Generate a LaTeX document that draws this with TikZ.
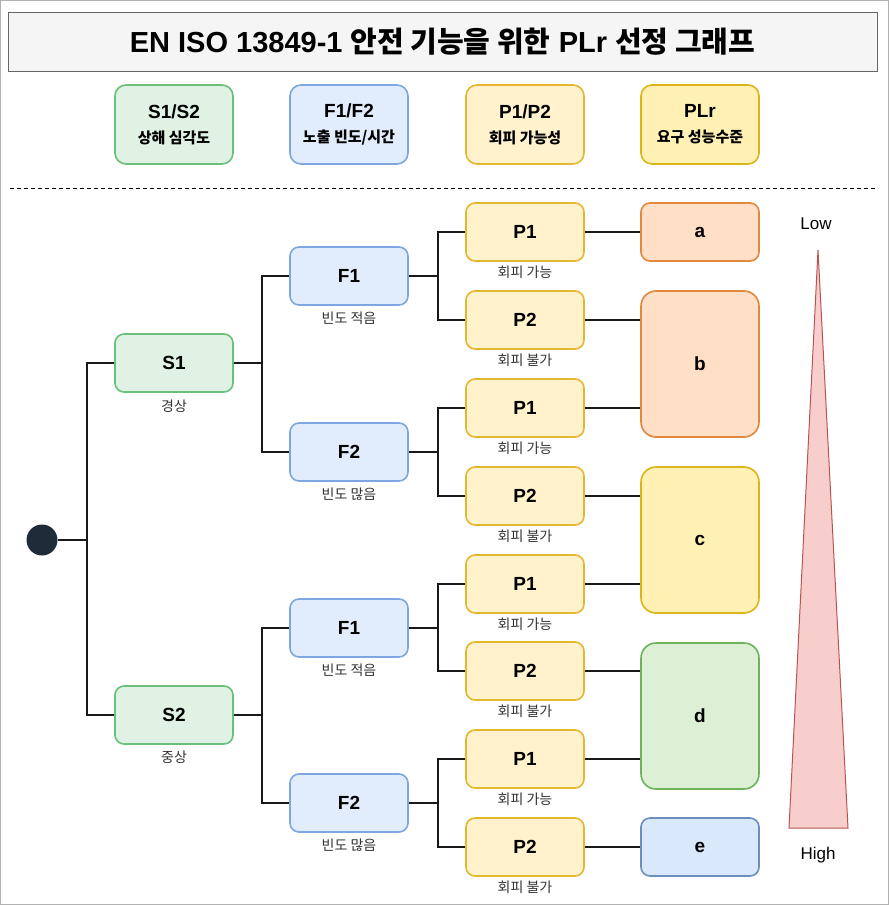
\documentclass[tikz,border=0pt]{standalone}
\usepackage{fontspec}
\setmainfont{Liberation Sans}
\newfontfamily\kr{Noto Sans CJK KR}
\usetikzlibrary{positioning}
\definecolor{sfill}{HTML}{DFF2E3}
\definecolor{sline}{HTML}{6ABF7B}
\definecolor{ffill}{HTML}{E1EDFD}
\definecolor{fline}{HTML}{7EA6E0}
\definecolor{pfill}{HTML}{FFF2CC}
\definecolor{pline}{HTML}{E3B72F}
\definecolor{ofill}{HTML}{FFE0C7}
\definecolor{oline}{HTML}{E0883E}
\definecolor{cfill}{HTML}{FFF0B3}
\definecolor{cline}{HTML}{DDB41A}
\definecolor{dfill}{HTML}{DDF0D5}
\definecolor{dline}{HTML}{6DB35A}
\definecolor{efill}{HTML}{DAE8FC}
\definecolor{eline}{HTML}{6C8EBF}
\definecolor{tfill}{HTML}{F5F5F5}
\definecolor{tline}{HTML}{666666}
\definecolor{wfill}{HTML}{F8CECC}
\definecolor{wline}{HTML}{B85450}
\definecolor{notegray}{HTML}{333333}
\definecolor{dotfill}{HTML}{1E2B38}
\tikzset{
    box/.style={draw, line width=1.6pt, rounded corners=9pt, minimum width=118pt,
        minimum height=58pt, align=center, font=\bfseries\fontsize{19}{22}\selectfont},
    sbox/.style={box, fill=sfill, draw=sline},
    fbox/.style={box, fill=ffill, draw=fline},
    pbox/.style={box, fill=pfill, draw=pline},
    bigbox/.style={box, rounded corners=15pt, minimum height=146pt},
    legend/.style={minimum height=79pt, rounded corners=11pt},
    note/.style={font=\kr\fontsize{14}{16}\selectfont, text=notegray},
    link/.style={line width=1.8pt, black!90}
}
\newcommand{\lgsub}[1]{{\kr\fontsize{15}{17}\selectfont #1}}

\begin{document}
\begin{tikzpicture}[x=1pt, y=-1pt]
\useasboundingbox (0,0) rectangle (889,905);
\draw[gray!60, line width=1pt] (0.5,0.5) rectangle (888.5,904.5);

% title
\node[draw=tline, fill=tfill, line width=1pt, minimum width=869pt, minimum height=59pt,
    font=\bfseries\fontsize{29}{32}\selectfont] (title) at (442.5,41.5)
    {EN ISO 13849-1 {\kr 안전 기능을 위한} PLr {\kr 선정 그래프}};

% legend
\node[sbox, legend] (lgs) at (174,124.5) {S1/S2\\[3pt]\lgsub{상해 심각도}};
\node[fbox, legend] (lgf) at (349,124.5) {F1/F2\\[3pt]\lgsub{노출 빈도/시간}};
\node[pbox, legend] (lgp) at (525,124.5) {P1/P2\\[3pt]\lgsub{회피 가능성}};
\node[pbox, legend, fill=cfill, draw=cline] (lgr) at (700,124.5) {PLr\\[3pt]\lgsub{요구 성능수준}};

\draw[line width=1pt, dash pattern=on 4pt off 3pt] (10,188) -- (877,188);

% start point
\node[circle, fill=dotfill, minimum size=31pt, inner sep=0pt] (start) at (42,540) {};

% severity
\node[sbox] (s1) at (174,363) {S1};
\node[note] (s1n) at (174,406) {경상};
\node[sbox] (s2) at (174,715) {S2};
\node[note] (s2n) at (174,757) {중상};

% frequency
\foreach \i/\y/\t/\s in {1/276/F1/빈도 적음, 2/452/F2/빈도 많음, 3/628/F1/빈도 적음, 4/803/F2/빈도 많음}{
  \node[fbox] (f\i) at (349,\y) {\t};
  \node[note] (fn\i) at (349,\y+42) {\s};
}

% avoidance
\foreach \i/\y/\t/\s in {1/232/P1/회피 가능, 2/320/P2/회피 불가, 3/408/P1/회피 가능, 4/496/P2/회피 불가,
    5/584/P1/회피 가능, 6/671/P2/회피 불가, 7/759/P1/회피 가능, 8/847/P2/회피 불가}{
  \node[pbox] (p\i) at (525,\y) {\t};
  \node[note] (pn\i) at (525,\y+40) {\s};
}

% PLr
\node[box, fill=ofill, draw=oline] (plra) at (700,232) {a};
\node[bigbox, fill=ofill, draw=oline] (plrb) at (700,364) {b};
\node[bigbox, fill=cfill, draw=cline] (plrc) at (700,540) {c};
\node[bigbox, fill=dfill, draw=dline] (plrd) at (700,716) {d};
\node[box, fill=efill, draw=eline] (plre) at (700,847) {e};

% connectors
\draw[link] (start.east) -- ++(29,0) |- (s1.west);
\draw[link] (start.east) -- ++(29,0) |- (s2.west);
\foreach \s/\a/\b in {s1/1/2, s2/3/4}{
  \draw[link] (\s.east) -- ++(28,0) |- (f\a.west);
  \draw[link] (\s.east) -- ++(28,0) |- (f\b.west);
}
\foreach \f/\a/\b in {1/1/2, 2/3/4, 3/5/6, 4/7/8}{
  \draw[link] (f\f.east) -- ++(29,0) |- (p\a.west);
  \draw[link] (f\f.east) -- ++(29,0) |- (p\b.west);
}
\foreach \p/\r in {1/a, 2/b, 3/b, 4/c, 5/c, 6/d, 7/d, 8/e}
  \draw[link] (p\p.east) -- (p\p.east -| plr\r.west);

% level wedge
\filldraw[fill=wfill, draw=wline, line width=1pt] (818,250) -- (848,828) -- (789,828) -- cycle;
\node[font=\fontsize{17}{20}\selectfont] (low) at (816,224) {Low};
\node[font=\fontsize{17}{20}\selectfont] (high) at (818,855) {High};
\end{tikzpicture}
\end{document}
